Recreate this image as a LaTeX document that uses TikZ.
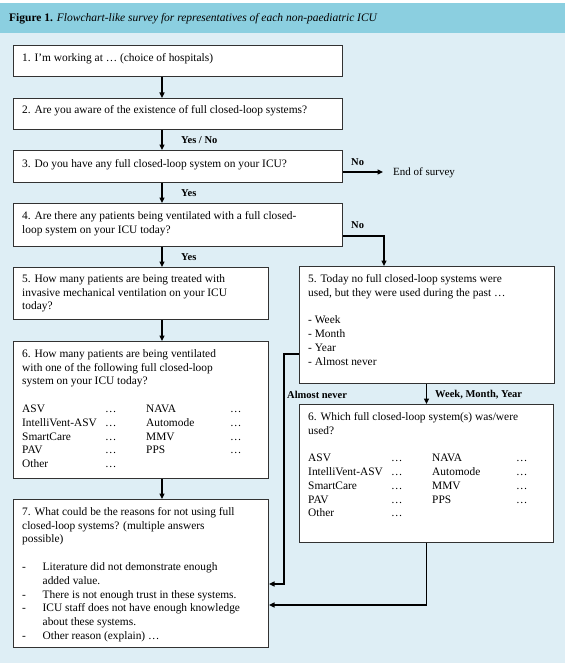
\documentclass[tikz,border=0pt]{standalone}
\usepackage{fontspec}
\setmainfont{Liberation Serif}
\usetikzlibrary{arrows.meta}
\definecolor{hdr}{RGB}{139,207,224}
\definecolor{bg}{RGB}{222,238,245}
\definecolor{edge}{RGB}{50,50,50}
\newcommand{\cola}[4]{\makebox[83pt][l]{#1}\makebox[41pt][l]{#2}\makebox[84pt][l]{#3}#4}
\newcommand{\bul}{\makebox[20.5pt][l]{-}}
\newcommand{\ind}{\hspace*{20.5pt}}
\begin{document}
\begin{tikzpicture}[x=1pt,y=-1pt,
  box/.style={draw=edge, line width=1pt, fill=white, inner sep=0pt, anchor=north west},
  txt/.style={anchor=north west, align=left, inner sep=0pt, font=\fontsize{11.4}{13.8}\selectfont},
  lbl/.style={anchor=west, inner sep=0pt, font=\fontsize{10.5}{12}\selectfont\bfseries},
  arr/.style={-{Triangle[length=5.5pt,width=5pt]}, line width=1.1pt, draw=black}]
\useasboundingbox (0,0) rectangle (568,666);
\fill[white] (0,0) rectangle (568,666);
\fill[bg] (0,33.5) rectangle (565,663);
\fill[hdr] (0,3.5) rectangle (565,33.5);
\node[anchor=west, inner sep=0pt, font=\fontsize{11.5}{13}\selectfont] (title) at (9,18.5)
  {\textbf{Figure 1.} \textit{Flowchart-like survey for representatives of each non-paediatric ICU}};

% boxes
\node[box, minimum width=329pt, minimum height=31pt] (b1) at (13,45) {};
\node[box, minimum width=329pt, minimum height=31pt] (b2) at (13,98) {};
\node[box, minimum width=329pt, minimum height=32pt] (b3) at (13,150) {};
\node[box, minimum width=329pt, minimum height=43pt] (b4) at (13,203) {};
\node[box, minimum width=255pt, minimum height=52pt] (b5) at (13,267) {};
\node[box, minimum width=255pt, minimum height=137pt] (b6) at (13,341) {};
\node[box, minimum width=255pt, minimum height=148pt] (b7) at (13,499) {};
\node[box, minimum width=255pt, minimum height=117pt] (r5) at (299,266) {};
\node[box, minimum width=254pt, minimum height=138pt] (r6) at (299,404) {};

% texts
\node[txt] (t1) at (22,51.5) {\strut 1. I’m working at … (choice of hospitals)};
\node[txt] (t2) at (22,103.5) {\strut 2. Are you aware of the existence of full closed-loop systems?};
\node[txt] (t3) at (22,157.5) {\strut 3. Do you have any full closed-loop system on your ICU?};
\node[txt] (t4) at (22,209.5) {\strut 4. Are there any patients being ventilated with a full closed-\\loop system on your ICU today?};
\node[txt] (t5) at (22,272.5) {\strut 5. How many patients are being treated with\\invasive mechanical ventilation on your ICU\\today?};
\node[txt] (t6) at (22,347.5) {\strut 6. How many patients are being ventilated\\with one of the following full closed-loop\\system on your ICU today?\\[13.8pt]
  \cola{ASV}{…}{NAVA}{…}\\
  \cola{IntelliVent-ASV}{…}{Automode}{…}\\
  \cola{SmartCare}{…}{MMV}{…}\\
  \cola{PAV}{…}{PPS}{…}\\
  \cola{Other}{…}{}{}};
\node[txt] (t7) at (22,505.5) {\strut 7. What could be the reasons for not using full\\closed-loop systems? (multiple answers\\possible)\\[13.8pt]
  \bul Literature did not demonstrate enough\\
  \ind added value.\\
  \bul There is not enough trust in these systems.\\
  \bul ICU staff does not have enough knowledge\\
  \ind about these systems.\\
  \bul Other reason (explain) …};
\node[txt] (tr5) at (308,272.5) {\strut 5. Today no full closed-loop systems were\\used, but they were used during the past …\\[13.8pt]
  - Week\\- Month\\- Year\\- Almost never};
\node[txt] (tr6) at (308,410.5) {\strut 6. Which full closed-loop system(s) was/were\\used?\\[13.8pt]
  \cola{ASV}{…}{NAVA}{…}\\
  \cola{IntelliVent-ASV}{…}{Automode}{…}\\
  \cola{SmartCare}{…}{MMV}{…}\\
  \cola{PAV}{…}{PPS}{…}\\
  \cola{Other}{…}{}{}};

% end of survey
\node[anchor=west, inner sep=0pt, font=\fontsize{11}{13}\selectfont] (end) at (393,173) {End of survey};

% helper coordinates
\coordinate (ax) at (162,0);
\coordinate (c3) at (383,172);
\coordinate (c4) at (384,236);
\coordinate (an1) at (284,354);
\coordinate (an2) at (284,584);
\coordinate (wm) at (426.5,605);

% connectors
\draw[arr] (b1.south -| ax) -- (b2.north -| ax);
\draw[arr] (b2.south -| ax) -- (b3.north -| ax);
\draw[arr] (b3.south -| ax) -- (b4.north -| ax);
\draw[arr] (b4.south -| ax) -- (b5.north -| ax);
\draw[arr] (b5.south -| ax) -- (b6.north -| ax);
\draw[arr] (b6.south -| ax) -- (b7.north -| ax);
\draw[arr] (b3.east |- c3) -- (c3);
\draw[arr] (b4.east |- c4) -- (c4) -- (r5.north -| c4);
\draw[arr] (r5.south -| wm) -- (r6.north -| wm);
\draw[arr] (r5.west |- an1) -- (an1) -- (an2) -- (b7.east |- an2);
\draw[arr] (r6.south -| wm) -- (wm) -- (b7.east |- wm);

% labels
\node[lbl] (l1) at (181,140.5) {Yes / No};
\node[lbl] (l2) at (181,193.5) {Yes};
\node[lbl] (l3) at (181,257) {Yes};
\node[lbl] (l4) at (351,162) {No};
\node[lbl] (l5) at (351,225) {No};
\node[lbl] (l6) at (287,394.5) {Almost never};
\node[lbl] (l7) at (435,394.5) {Week, Month, Year};
\end{tikzpicture}
\end{document}
